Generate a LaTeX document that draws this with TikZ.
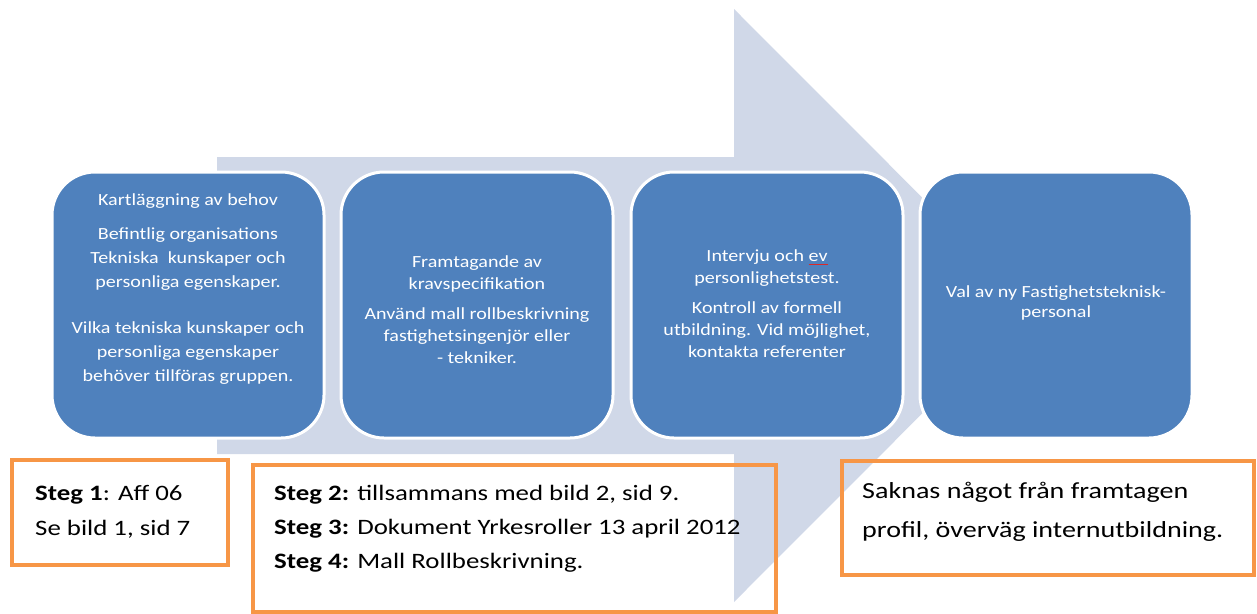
\documentclass[tikz,border=0pt]{standalone}
\usepackage{fontspec}
\setmainfont{Carlito}
\newfontfamily\stagefont{Carlito}[FakeStretch=1.18]
\newfontfamily\notefont{Carlito}[FakeStretch=1.22]
\definecolor{stageblue}{RGB}{79,129,189}
\definecolor{arrowlav}{RGB}{208,216,232}
\definecolor{noteorange}{RGB}{247,150,70}
\definecolor{spellred}{RGB}{220,40,40}
% word with a spell-check underline
\newcommand{\spellmark}[1]{\setbox0\hbox{#1}\rlap{\color{spellred}\raisebox{-3pt}{\rule{\wd0}{0.7pt}}}#1}
\begin{document}
\begin{tikzpicture}[x=1pt,y=-1pt,
  stage/.style={draw=white, line width=3pt, fill=stageblue, rounded corners=43pt,
    minimum width=272pt, minimum height=266pt, inner sep=0pt},
  stagetext/.style={text=white, align=center, inner sep=0pt},
  note/.style={draw=noteorange, line width=4.5pt, inner sep=0pt},
  notetext/.style={anchor=base west, inner sep=0pt, font=\notefont\fontsize{22}{26}\selectfont}]
\useasboundingbox (0,0) rectangle (1257,613);

% big background arrow
\fill[arrowlav] (217,157) -- (734,157) -- (734,9) -- (1030,305.5)
  -- (734,602) -- (734,454) -- (217,454) -- cycle;

% process stages
\node[stage] (s1) at (188,305) {};
\node[stage] (s2) at (477,305) {};
\node[stage] (s3) at (767,305) {};
\node[stage] (s4) at (1056,305) {};

\node[stagetext, font=\stagefont\fontsize{17}{24}\selectfont] (t1) at (188,289) {%
  Kartläggning av behov\\[10pt]
  Befintlig organisations\\
  Tekniska\ \ kunskaper och\\
  personliga egenskaper.\\[22pt]
  Vilka tekniska kunskaper och\\
  personliga egenskaper\\
  behöver tillföras gruppen.};
\node[stagetext, font=\stagefont\fontsize{17}{22}\selectfont] (t2) at (477,310) {%
  Framtagande av\\
  kravspecifikation\\[8pt]
  Använd mall rollbeskrivning\\
  fastighetsingenjör eller\\
  - tekniker.};
\node[stagetext, font=\stagefont\fontsize{17}{22}\selectfont] (t3) at (767,304) {%
  Intervju och \spellmark{ev}\\
  personlighetstest.\\[8pt]
  Kontroll av formell\\
  utbildning. Vid möjlighet,\\
  kontakta referenter};
\node[stagetext, font=\stagefont\fontsize{17}{20}\selectfont] (t4) at (1056,303) {%
  Val av ny Fastighetsteknisk-\\
  personal};

% reference notes
\node[note, minimum width=216pt, minimum height=105pt] (na) at (120,512.5) {};
\node[note, minimum width=523pt, minimum height=147pt] (nb) at (514.5,538.5) {};
\node[note, minimum width=412pt, minimum height=114pt] (nc) at (1048,518) {};

\node[notetext] (na1) at (35,500) {\textbf{Steg 1}: Aff 06};
\node[notetext] (na2) at (35,535) {Se bild 1, sid 7};
\node[notetext] (nb1) at (274,500) {\textbf{Steg 2:} tillsammans med bild 2, sid 9.};
\node[notetext] (nb2) at (274,534) {\textbf{Steg 3:} Dokument Yrkesroller 13 april 2012};
\node[notetext] (nb3) at (274,568) {\textbf{Steg 4:} Mall Rollbeskrivning.};
\node[notetext, font=\notefont\fontsize{23}{28}\selectfont] (nc1) at (862,498) {Saknas något från framtagen};
\node[notetext, font=\notefont\fontsize{23}{28}\selectfont] (nc2) at (862,537) {profil, överväg internutbildning.};
\end{tikzpicture}
\end{document}
